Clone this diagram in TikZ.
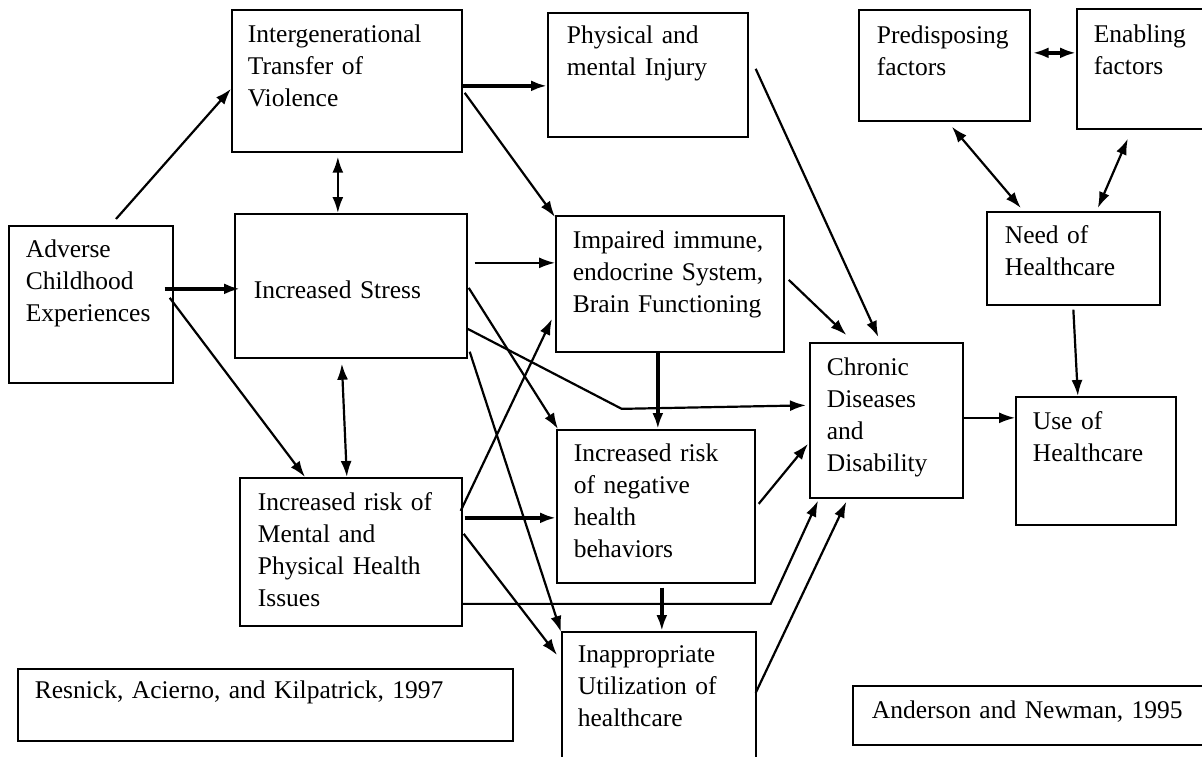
\documentclass[tikz,border=0pt]{standalone}
\usepackage{fontspec}
\setmainfont{Liberation Serif}
\usetikzlibrary{arrows.meta}

\tikzset{
  box/.style={draw, line width=1.7pt, anchor=north west, align=left,
    inner ysep=0pt, font=\fontsize{25.5}{32}\selectfont},
  link/.style={line width=2.2pt},
  thicklink/.style={line width=3.4pt},
  thinlink/.style={line width=1.7pt},
}

\begin{document}
\begin{tikzpicture}[x=1pt, y=-1pt, >={Latex[length=16pt,width=11pt]}]
      \useasboundingbox (0,0) rectangle (1202,757);
      \clip (0,0) rectangle (1202,757);

      % left model
      \node[box, inner xsep=17pt, text width=130pt, text height=32pt, text depth=125pt] (adv) at (8,225) {Adverse\\Childhood\\Experiences};
      \node[box, inner xsep=16pt, text width=198pt, text height=33pt, text depth=109pt] (itv) at (231,9) {Intergenerational\\Transfer of\\Violence};
      \node[box, inner xsep=19pt, text width=194pt, text height=85pt, text depth=59pt] (stress) at (234,213) {Increased Stress};
      \node[box, inner xsep=18pt, text width=186pt, text height=33pt, text depth=115pt] (health) at (239,477) {Increased risk of\\Mental and\\Physical Health\\Issues};
      \node[box, inner xsep=19pt, text width=162pt, text height=31pt, text depth=93pt] (inj) at (547,12) {Physical and\\mental Injury};
      \node[box, inner xsep=17pt, text width=194pt, text height=33pt, text depth=103pt] (imm) at (555,215) {Impaired immune,\\endocrine System,\\Brain Functioning};
      \node[box, inner xsep=17pt, text width=164pt, text height=32pt, text depth=121pt] (neg) at (556,429) {Increased risk\\of negative\\health\\behaviors};
      \node[box, inner xsep=16pt, text width=162pt, text height=31pt, text depth=104pt] (inapp) at (561,631) {Inappropriate\\Utilization of\\healthcare};
      \node[box, inner xsep=17pt, text width=119pt, text height=33pt, text depth=122pt] (chron) at (809,342) {Chronic\\Diseases\\and\\Disability};
      \node[box, inner xsep=17pt, text width=461pt, text height=30pt, text depth=42pt] (resnick) at (17,668) {Resnick, Acierno, and Kilpatrick, 1997};

      % right model
      \node[box, inner xsep=18pt, text width=135pt, text height=34pt, text depth=77pt] (pred) at (858,9) {Predisposing\\factors};
      \node[box, inner xsep=17pt, text width=106pt, text height=34pt, text depth=86pt] (enab) at (1076,8) {Enabling\\factors};
      \node[box, inner xsep=18pt, text width=137pt, text height=32pt, text depth=61pt] (need) at (986,211) {Need of\\Healthcare};
      \node[box, inner xsep=17pt, text width=126pt, text height=33pt, text depth=95pt] (use) at (1015,396) {Use of\\Healthcare};
      \node[box, inner xsep=19pt, text width=322pt, text height=33pt, text depth=26pt] (anderson) at (852,685) {Anderson and Newman, 1995};

      \draw[link,->] ([shift={(108,-6)}]adv.north west) -- ([shift={(0,8)}]itv.west);
      \draw[thicklink,->] ([shift={(-9,-15.5)}]adv.east) -- ([shift={(6,3)}]stress.west);
      \draw[link,->] ([shift={(-4,-6.5)}]adv.east) -- ([shift={(66,0)}]health.north west);
      \draw[link,<->] ([shift={(-9,4)}]itv.south) -- ([shift={(-13,0)}]stress.north);
      \draw[thicklink,->] ([shift={(0,5)}]itv.east) -- ([shift={(0,11)}]inj.west);
      \draw[link,->] ([shift={(2,12)}]itv.east) -- ([shift={(0,2)}]imm.north west);
      \draw[thinlink,->] ([shift={(7,-23)}]stress.east) -- ([shift={(0,-21)}]imm.west);
      \draw[link,<->] ([shift={(-9,5)}]stress.south) -- ([shift={(-4,0)}]health.north);
      \draw[link,->] ([shift={(1,2)}]stress.east) -- ([shift={(2,0)}]neg.north west);
      \draw[link,->] ([shift={(0,43)}]stress.east) -- ++(154,80) -- ([shift={(-3,-15)}]chron.west);
      \draw[link,->] ([shift={(2,-7)}]stress.south east) -- ([shift={(0,1)}]inapp.north west);
      \draw[link,->] ([shift={(-2,-41)}]health.east) -- ([shift={(-3,35)}]imm.west);
      \draw[thicklink,->] ([shift={(2,-34)}]health.east) -- ([shift={(0,11.5)}]neg.west);
      \draw[link,->] ([shift={(1,-18)}]health.east) -- ([shift={(-4,24)}]inapp.north west);
      \draw[link,->] ([shift={(0,52)}]health.east) -- ++(308,0) -- ([shift={(9,2)}]chron.south west);
      \draw[link,->] ([shift={(7,-6)}]inj.east) -- ([shift={(-8,-5)}]chron.north);
      \draw[thicklink,->] ([shift={(-12,0)}]imm.south) -- ([shift={(2,0)}]neg.north);
      \draw[link,->] ([shift={(4,-4)}]imm.east) -- ([shift={(-40,-7)}]chron.north);
      \draw[thicklink,->] ([shift={(6,4)}]neg.south) -- ([shift={(3,0)}]inapp.north);
      \draw[link,->] ([shift={(3,-2.5)}]neg.east) -- ([shift={(-1,23.5)}]chron.west);
      \draw[link,->] ([shift={(-1,-6.5)}]inapp.east) -- ([shift={(-40,3)}]chron.south);
      \draw[thinlink,->] ([shift={(0,-2.5)}]chron.east) -- ([shift={(0,-43)}]use.west);

      \draw[thicklink,<->] ([shift={(2,-12.5)}]pred.east) -- ([shift={(0,-16)}]enab.west);
      \draw[link,<->] ([shift={(7.5,5)}]pred.south) -- ([shift={(-52.5,-3)}]need.north);
      \draw[link,<->] ([shift={(-19,9)}]enab.south) -- ([shift={(24.5,-3)}]need.north);
      \draw[link,->] ([shift={(0,4)}]need.south) -- ([shift={(-18,0)}]use.north);
    \end{tikzpicture}
\end{document}
